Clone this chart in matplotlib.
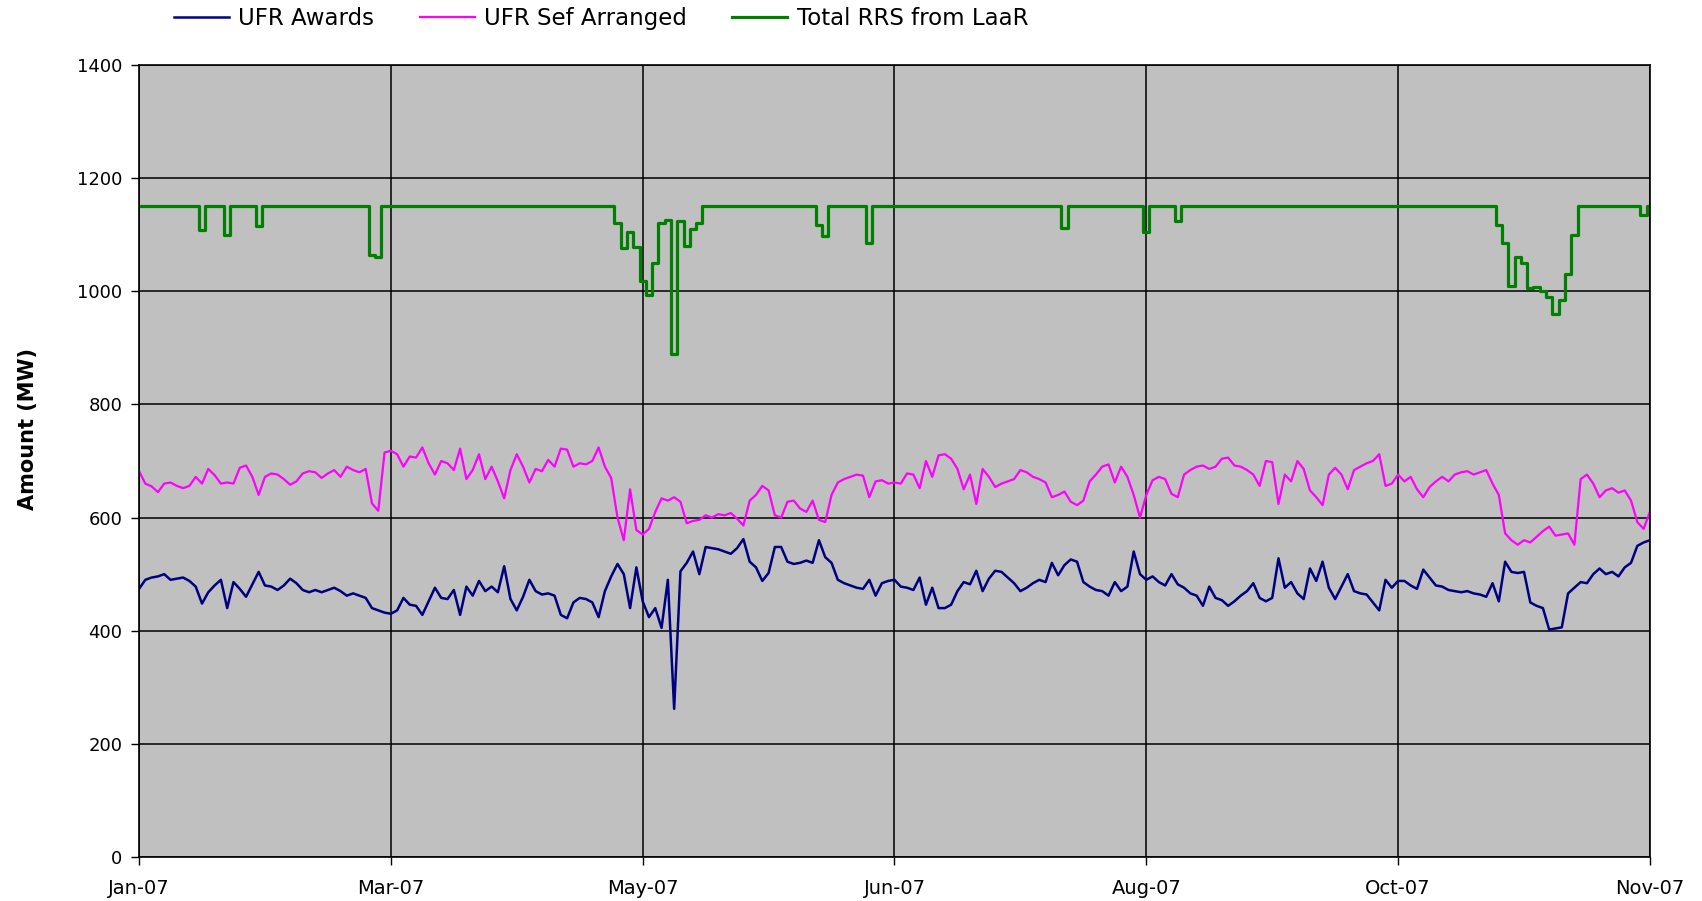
import numpy as np
import matplotlib
matplotlib.use("Agg")
import matplotlib.pyplot as plt

tick_labels = ["Jan-07", "Mar-07", "May-07", "Jun-07", "Aug-07", "Oct-07", "Nov-07"]
series_names = ["UFR Awards", "UFR Sef Arranged", "Total RRS from LaaR"]

ufr_awards = [
    474, 490, 494, 496, 500, 490, 492, 494, 488, 478,
    448, 468, 480, 490, 440, 486, 474, 460, 482, 504,
    480, 478, 472, 480, 492, 484, 472, 468, 472, 468,
    472, 476, 470, 462, 466, 462, 458, 440, 436, 432,
    430, 436, 458, 446, 444, 428, 452, 476, 458, 456,
    472, 428, 478, 462, 488, 470, 478, 468, 514, 456,
    436, 460, 490, 470, 464, 466, 462, 428, 422, 450,
    458, 456, 450, 424, 470, 496, 518, 500, 440, 512,
    452, 424, 440, 405, 490, 262, 505, 520, 540, 500,
    548, 546, 544, 540, 536, 546, 562, 522, 512, 488,
    502, 548, 548, 522, 518, 520, 524, 520, 560, 530,
    520, 490, 484, 480, 476, 474, 490, 462, 484, 488,
    490, 478, 476, 472, 494, 446, 476, 440, 440, 446,
    470, 486, 482, 506, 470, 492, 506, 504, 494, 484,
    470, 476, 484, 490, 486, 520, 498, 516, 526, 522,
    486, 478, 472, 470, 462, 486, 470, 478, 540, 500,
    490, 496, 486, 480, 500, 482, 476, 466, 462, 444,
    478, 458, 454, 444, 452, 462, 470, 484, 458, 452,
    458, 528, 476, 486, 466, 456, 510, 488, 522, 476,
    456, 478, 500, 470, 466, 464, 450, 436, 490, 476,
    488, 488, 480, 474, 508, 494, 480, 478, 472, 470,
    468, 470, 466, 464, 460, 484, 452, 522, 504, 502,
    504, 450, 444, 440, 402, 404, 406, 466, 476, 486,
    484, 500, 510, 500, 504, 496, 512, 520, 550, 556,
    560,
]

ufr_self_arranged = [
    682, 660, 655, 645, 660, 662, 656, 652, 656, 672,
    660, 686, 675, 660, 662, 660, 688, 692, 672, 640,
    672, 678, 676, 668, 658, 664, 678, 682, 680, 670,
    678, 684, 672, 690, 684, 680, 686, 625, 612, 715,
    718, 712, 690, 708, 706, 724, 696, 676, 700, 696,
    684, 722, 668, 684, 712, 668, 690, 664, 634, 684,
    712, 690, 662, 686, 682, 702, 690, 722, 720, 690,
    696, 694, 700, 724, 690, 670, 600, 560, 650, 578,
    570, 580, 610, 634, 630, 636, 628, 590, 594, 596,
    604, 600, 606, 604, 608, 598, 586, 630, 640, 656,
    648, 604, 600, 628, 630, 616, 610, 630, 596, 592,
    640, 662, 668, 672, 676, 674, 636, 664, 666, 660,
    662, 660, 678, 676, 652, 700, 672, 710, 712, 704,
    686, 650, 676, 624, 686, 672, 654, 660, 664, 668,
    684, 680, 672, 668, 662, 636, 640, 646, 628, 622,
    630, 664, 676, 690, 694, 662, 690, 672, 640, 600,
    640, 666, 672, 668, 642, 636, 676, 684, 690, 692,
    686, 690, 704, 706, 692, 690, 684, 676, 656, 700,
    698, 624, 676, 664, 700, 686, 648, 636, 622, 676,
    688, 676, 650, 684, 690, 696, 700, 712, 656, 660,
    676, 664, 672, 650, 636, 654, 664, 672, 664, 676,
    680, 682, 676, 680, 684, 660, 640, 572, 560, 552,
    560, 556, 566, 576, 584, 568, 570, 572, 552, 668,
    676, 660, 636, 648, 652, 644, 648, 630, 592, 580,
    610,
]

total_rrs_laar = [
    1150, 1150, 1150, 1150, 1150, 1150, 1150, 1150, 1150, 1150,
    1108, 1150, 1150, 1150, 1100, 1150, 1150, 1150, 1150, 1115,
    1150, 1150, 1150, 1150, 1150, 1150, 1150, 1150, 1150, 1150,
    1150, 1150, 1150, 1150, 1150, 1150, 1150, 1064, 1060, 1150,
    1150, 1150, 1150, 1150, 1150, 1150, 1150, 1150, 1150, 1150,
    1150, 1150, 1150, 1150, 1150, 1150, 1150, 1150, 1150, 1150,
    1150, 1150, 1150, 1150, 1150, 1150, 1150, 1150, 1150, 1150,
    1150, 1150, 1150, 1150, 1150, 1150, 1120, 1076, 1104, 1078,
    1018, 994, 1050, 1120, 1126, 890, 1124, 1080, 1110, 1120,
    1150, 1150, 1150, 1150, 1150, 1150, 1150, 1150, 1150, 1150,
    1150, 1150, 1150, 1150, 1150, 1150, 1150, 1150, 1118, 1098,
    1150, 1150, 1150, 1150, 1150, 1150, 1085, 1150, 1150, 1150,
    1150, 1150, 1150, 1150, 1150, 1150, 1150, 1150, 1150, 1150,
    1150, 1150, 1150, 1150, 1150, 1150, 1150, 1150, 1150, 1150,
    1150, 1150, 1150, 1150, 1150, 1150, 1150, 1112, 1150, 1150,
    1150, 1150, 1150, 1150, 1150, 1150, 1150, 1150, 1150, 1150,
    1105, 1150, 1150, 1150, 1150, 1124, 1150, 1150, 1150, 1150,
    1150, 1150, 1150, 1150, 1150, 1150, 1150, 1150, 1150, 1150,
    1150, 1150, 1150, 1150, 1150, 1150, 1150, 1150, 1150, 1150,
    1150, 1150, 1150, 1150, 1150, 1150, 1150, 1150, 1150, 1150,
    1150, 1150, 1150, 1150, 1150, 1150, 1150, 1150, 1150, 1150,
    1150, 1150, 1150, 1150, 1150, 1150, 1118, 1085, 1010, 1060,
    1050, 1005, 1008, 1000, 990, 960, 985, 1030, 1100, 1150,
    1150, 1150, 1150, 1150, 1150, 1150, 1150, 1150, 1150, 1135,
    1150,
]

y_ticks = [0, 200, 400, 600, 800, 1000, 1200, 1400]

fig = plt.figure(figsize=(17.02, 9.01), dpi=100)
ax = fig.add_axes([0.0817, 0.0488, 0.8877, 0.8791])
ax.set_facecolor("#C0C0C0")

span = len(tick_labels) - 1
styles = [("#000080", 1.8, "default"), ("#FF00FF", 1.6, "default"), ("#008000", 2.3, "steps-mid")]
for vals, name, (col, lw, ds) in zip([ufr_awards, ufr_self_arranged, total_rrs_laar], series_names, styles):
    x = np.linspace(0, span, len(vals))
    ax.plot(x, vals, color=col, lw=lw, label=name, drawstyle=ds)

ax.set_xlim(0, span)
ax.set_ylim(0, 1400)
ax.set_xticks(range(len(tick_labels)))
ax.set_xticklabels(tick_labels)
ax.set_yticks(y_ticks)
ax.grid(True, color="black", lw=1.1)
ax.set_axisbelow(True)
for s in ax.spines.values():
    s.set_color("black")
    s.set_linewidth(1.2)
ax.tick_params(axis="both", direction="out", length=6, width=1, labelsize=13, pad=6)
ax.tick_params(axis="x", pad=10, labelsize=14)
ax.set_ylabel("Amount (MW)", fontsize=15, fontweight="bold")
ax.yaxis.set_label_coords(-0.067, 0.54)

fig.legend(loc="center", bbox_to_anchor=(0.353, 0.979), ncol=3, frameon=False,
           fontsize=16.5, handlelength=2.4, columnspacing=2.0, handletextpad=0.4)

fig.savefig("out.png", dpi=100)
